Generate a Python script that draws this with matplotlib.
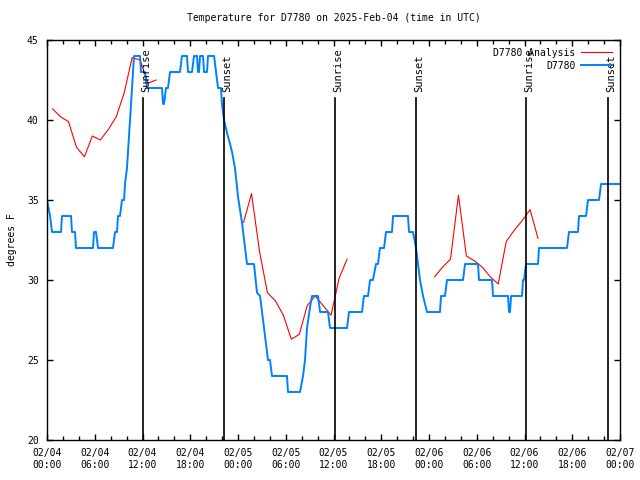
import numpy as np
import pandas as pd
import matplotlib
matplotlib.use("Agg")
import matplotlib.pyplot as plt
import matplotlib.dates as mdates

# hours after 2025-02-04 00:00 UTC
base = pd.Timestamp("2025-02-04 00:00")

# observed D7780 (stepped, whole degrees F)
obs_hours = [0.00, 0.38, 0.63, 1.76, 1.88, 3.02, 3.14, 3.52, 3.64, 5.78, 5.91, 6.16, 6.41,
             8.29, 8.55, 8.80, 8.92, 9.17, 9.42, 9.68, 9.80, 10.05, 10.18, 10.30, 10.43,
             10.56, 10.68, 10.81, 10.93, 11.69, 11.81, 12.31, 12.57, 14.45, 14.58, 14.70,
             14.95, 15.20, 15.46, 16.71, 16.96, 17.59, 17.72, 18.22, 18.47, 18.85, 18.97,
             19.10, 19.23, 19.60, 19.73, 20.11, 20.23, 20.99, 21.24, 21.49, 21.86, 21.99,
             22.24, 22.62, 23.00, 23.25, 23.62, 24.00, 24.50, 24.88, 25.13, 26.01, 26.39,
             26.77, 27.14, 27.52, 27.77, 28.02, 28.27, 30.16, 30.28, 31.79, 32.17, 32.42,
             32.67, 33.05, 33.30, 34.05, 34.31, 35.31, 35.56, 37.70, 37.95, 39.58, 39.83,
             40.34, 40.59, 40.96, 41.34, 41.59, 41.84, 42.35, 42.60, 43.35, 43.48, 45.36,
             45.49, 45.99, 46.37, 46.62, 46.87, 47.25, 47.75, 49.38, 49.51, 50.01, 50.26,
             52.27, 52.53, 54.16, 54.28, 55.92, 56.04, 57.93, 58.05, 58.18, 58.31, 59.69,
             59.81, 59.94, 60.19, 61.70, 61.82, 65.34, 65.59, 66.72, 66.85, 67.73, 67.98,
             69.36, 69.62, 72.00]
obs_temp = [35, 34, 33, 33, 34, 34, 33, 33, 32, 32, 33, 33, 32,
            32, 33, 33, 34, 34, 35, 35, 36, 37, 38, 39, 40,
            41, 42, 43, 44, 44, 43, 43, 42, 42, 41, 41,
            42, 42, 43, 43, 44, 44, 43, 43, 44, 44, 43,
            43, 44, 44, 43, 43, 44, 44, 43, 42, 42, 41,
            40, 39.2, 38.5, 38, 37, 35.2, 33.6, 32, 31, 31, 29.2,
            29, 27.5, 26, 25, 25, 24, 24, 23, 23, 24, 25,
            27, 28.3, 29, 29, 28, 28, 27, 27, 28, 28, 29,
            29, 30, 30, 31, 31, 32, 32, 33, 33, 34, 34,
            33, 33, 32, 31, 30, 29, 28, 28, 29, 29, 30,
            30, 31, 31, 30, 30, 29, 29, 28, 28, 29, 29,
            30, 30, 31, 31, 32, 32, 33, 33, 34, 34, 35,
            35, 36, 36]

# hourly analysis, three runs
ana_hours = [0.7, 1.7, 2.7, 3.7, 4.7, 5.7, 6.7, 7.7, 8.7, 9.7, 10.7, 11.7, 12.7, 13.7, 14.2,
             24.7, 25.7, 26.7, 27.7, 28.7, 29.7, 30.7, 31.7, 32.7, 33.7, 34.7, 35.7, 36.7, 37.7, 38.2,
             48.7, 49.7, 50.7, 51.7, 52.7, 53.7, 54.7, 55.7, 56.7, 57.7, 58.7, 59.7, 60.7, 61.7]
ana_temp = [40.7, 40.2, 39.9, 38.3, 37.7, 39.0, 38.75, 39.4, 40.2, 41.7, 43.9, 43.75, 42.3, 42.5, np.nan,
            33.6, 35.4, 31.8, 29.2, 28.7, 27.8, 26.3, 26.6, 28.4, 29.0, 28.4, 27.8, 30.1, 31.3, np.nan,
            30.2, 30.8, 31.3, 35.3, 31.5, 31.2, 30.8, 30.2, 29.75, 32.4, 33.1, 33.7, 34.4, 32.6]

sun_hours = [12.06, 22.24, 36.19, 46.37, 60.19, 70.5]
sun_labels = ["Sunrise", "Sunset", "Sunrise", "Sunset", "Sunrise", "Sunset"]

def to_time(h):
    return base + pd.to_timedelta(np.asarray(h, dtype=float), unit="h")

plt.rcParams['font.family'] = ['DejaVu Sans Mono']
plt.rcParams['font.size'] = 7

fig = plt.figure(figsize=(6.4, 4.8), dpi=100)
ax = fig.add_axes([47/640, 40/480, 573/640, 400/480])

ax.plot(to_time(ana_hours), ana_temp, color="#ff0000", lw=0.8, label="D7780 Analysis")
ax.plot(to_time(obs_hours), obs_temp, color="#0080ff", lw=1.4, label="D7780")

for h, lab in zip(sun_hours, sun_labels):
    t = to_time([h])[0]
    ax.plot([t, t], [20, 41.4], color="black", lw=1.2)
    ax.annotate(lab, xy=(t, 41.75), xytext=(-1, 0), textcoords="offset points",
                rotation=90, ha="left", va="bottom", fontsize=7.5)

ax.set_xlim(base, base + pd.Timedelta(hours=72))
ax.set_ylim(20, 45)
ax.set_yticks([20, 25, 30, 35, 40, 45])
ax.xaxis.set_major_locator(mdates.HourLocator(byhour=[0, 6, 12, 18]))
ax.xaxis.set_minor_locator(mdates.HourLocator(byhour=range(0, 24, 2)))
ax.xaxis.set_major_formatter(mdates.DateFormatter("%m/%d\n%H:%M"))
ax.tick_params(which="both", direction="in", top=True, right=True, width=1)
ax.tick_params(which="major", length=4, pad=6)
ax.tick_params(which="minor", length=3)
for s in ax.spines.values():
    s.set_linewidth(1)

ax.set_ylabel("degrees F", labelpad=7)
ax.set_title("Temperature for D7780 on 2025-Feb-04 (time in UTC)", fontsize=7, pad=14)

ax.legend(loc="upper right", frameon=False, markerfirst=False, handlelength=3.2,
          labelspacing=0.3, borderaxespad=0.4, handletextpad=0.6)

fig.savefig("out.png", dpi=100)
